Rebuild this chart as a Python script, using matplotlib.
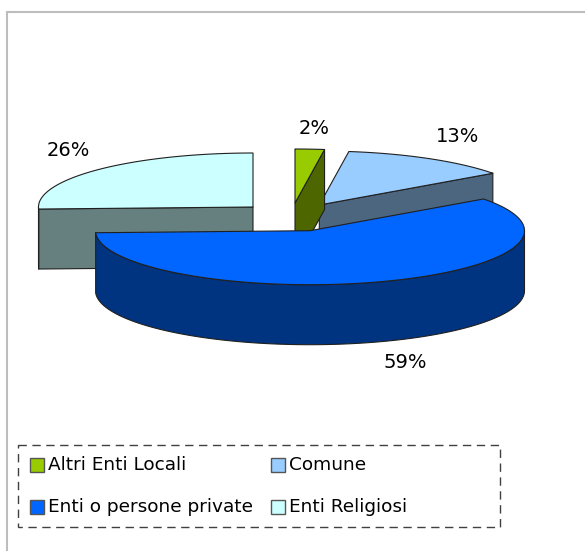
import numpy as np
import matplotlib
matplotlib.use('Agg')
import matplotlib.pyplot as plt
from matplotlib.patches import Polygon, Rectangle

labels = ['Altri Enti Locali', 'Comune', 'Enti o persone private', 'Enti Religiosi']
values = [2.2, 12.8, 59.4, 25.6]
pct_labels = ['2%', '13%', '59%', '26%']
top_colors = ['#99CC00', '#99CCFF', '#0066FF', '#CCFFFF']
side_colors = ['#4D6600', '#4D6680', '#003380', '#668080']

# layout in image pixels
RX, RY, DEPTH = 214.5, 54, 60
apex = [(295, 203), (319.3, 205), (310, 230.7), (253, 207)]
pct_pos = [(314, 128), (457.5, 137), (405, 362), (68, 150)]
leg_swatch = [(30, 458), (271, 458), (30, 500), (271, 500)]

plt.rcParams['font.family'] = ['DejaVu Sans']

fig = plt.figure(figsize=(5.85, 5.51), dpi=100)
ax = fig.add_axes([0, 0, 1, 1])
ax.set_xlim(0, 585)
ax.set_ylim(551, 0)
ax.axis('off')


def rim(cx, cy, t0, t1, n=120):
    t = np.radians(np.linspace(t0, t1, n))
    return np.column_stack([cx + RX * np.sin(t), cy - RY * np.cos(t)])


def draw_slice(i, t0, t1):
    cx, cy = apex[i]
    arc = rim(cx, cy, t0, t1)
    ek = dict(edgecolor='#202020', linewidth=0.8, joinstyle='round')
    # cut face of the slice, the one turned to the viewer
    if i != 2:
        tf = t0 if t0 > 180 else t1
        pf = rim(cx, cy, tf, tf, 1)[0]
        face = [(cx, cy), pf, (pf[0], pf[1] + DEPTH), (cx, cy + DEPTH)]
        ax.add_patch(Polygon(face, facecolor=side_colors[i], **ek))
    # outer wall, only the lower half of the ellipse shows
    a0, a1 = max(t0, 90), min(t1, 270)
    if a1 > a0:
        up = rim(cx, cy, a0, a1)
        wall = np.vstack([up, (up + [0, DEPTH])[::-1]])
        ax.add_patch(Polygon(wall, facecolor=side_colors[i], **ek))
    ax.add_patch(Polygon(np.vstack([[(cx, cy)], arc]), facecolor=top_colors[i], **ek))


# start at 12 o'clock, clockwise
edges = np.concatenate([[0], np.cumsum(values)]) / np.sum(values) * 360
for i in [3, 1, 0, 2]:
    draw_slice(i, edges[i], edges[i + 1])

for i, s in enumerate(pct_labels):
    ax.text(pct_pos[i][0], pct_pos[i][1], s, fontsize=14, color='black', ha='center', va='center')

# chart frame, only top and left show
ax.plot([6.5, 6.5, 585], [551, 12, 12], color='#BDBDBD', linewidth=1.5, solid_joinstyle='miter')

# legend
ax.add_patch(Rectangle((17.5, 445), 482.5, 82, fill=False, edgecolor='#404040', linewidth=1, linestyle=(0, (6, 4))))
for i, s in enumerate(labels):
    x, y = leg_swatch[i]
    ax.add_patch(Rectangle((x, y), 14, 14, facecolor=top_colors[i], edgecolor='#555555', linewidth=1))
    ax.text(x + 18, y + 7, s, fontsize=13.3, color='black', ha='left', va='center')

fig.savefig('out.png', dpi=100)
